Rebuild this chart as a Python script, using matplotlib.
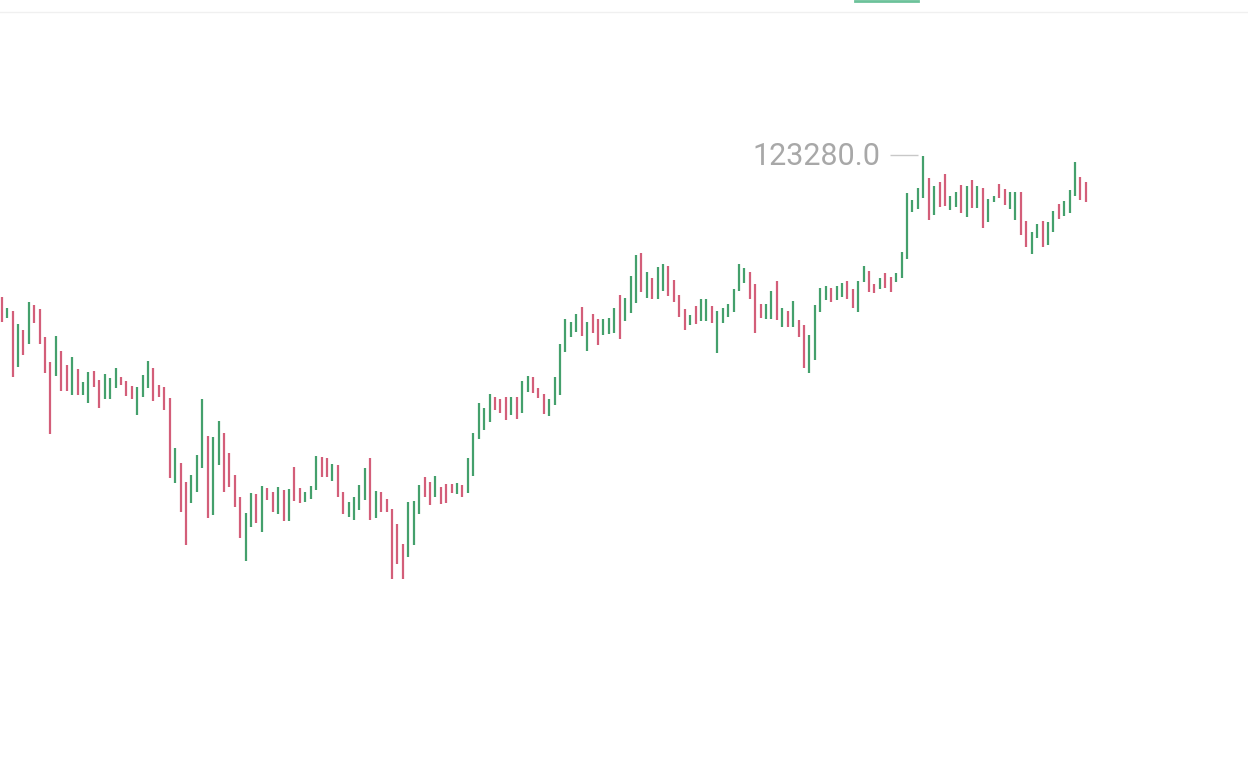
import matplotlib

matplotlib.use("Agg")
import matplotlib.pyplot as plt
from matplotlib.lines import Line2D

# bougies (plus haut / plus bas, sens)
highs = [
    121870, 121760, 121730, 121600, 121540, 121820, 121790, 121750, 121470, 121220,
    121480, 121330, 121190, 121270, 121150, 121020, 121120, 121130, 121040, 121100,
    121060, 121160, 121070, 121030, 120980, 120970, 121090, 121230, 121160, 120990,
    120970, 120860, 120360, 120210, 120020, 120090, 120290, 120850, 120480, 120470,
    120630, 120510, 120310, 120090, 119870, 119710, 119910, 119900, 119980, 119960,
    119920, 119970, 119940, 119950, 120170, 119960, 119920, 119980, 120280, 120270,
    120260, 120200, 120190, 119920, 119820, 119870, 119990, 120160, 120260, 119930,
    119920, 119850, 119750, 119600, 119400, 119820, 119830, 119990, 120070, 120020,
    120080, 119970, 120000, 120000, 120010, 119990, 120260, 120510, 120810, 120760,
    120900, 120870, 120850, 120870, 120870, 120870, 121030, 121080, 121070, 120960,
    120900, 120850, 121070, 121400, 121650, 121620, 121700, 121770, 121620, 121700,
    121650, 121650, 121660, 121760, 121890, 121860, 122080, 122290, 122310, 122120,
    122060, 122170, 122200, 122180, 122040, 121890, 121750, 121690, 121780, 121850,
    121850, 121780, 121730, 121760, 121800, 121950, 122200, 122160, 122120, 122000,
    121800, 121800, 121930, 122030, 121760, 121730, 121830, 121640, 121590, 121490,
    121790, 121960, 121980, 121960, 121980, 122010, 122030, 121950, 122030, 122180,
    122130, 122000, 122060, 122110, 122070, 122110, 122320, 122910, 122840, 122960,
    123280, 123060, 122980, 123020, 123100, 122880, 122920, 122990, 122980, 123040,
    122980, 122960, 122850, 122880, 123000, 122950, 122920, 122920, 122920, 122630,
    122520, 122600, 122630, 122620, 122730, 122800, 122830, 122940, 123220, 123070,
    123020,
]
lows = [
    121620, 121660, 121070, 121170, 121290, 121400, 121610, 121400, 121110, 120500,
    121080, 120930, 120930, 120890, 120890, 120890, 120810, 120970, 120760, 120850,
    120850, 120960, 120990, 120880, 120850, 120690, 120870, 120960, 120830, 120870,
    120740, 120060, 120010, 119720, 119390, 119810, 119920, 120160, 119660, 119690,
    120190, 119920, 119970, 119770, 119460, 119230, 119570, 119610, 119520, 119840,
    119720, 119700, 119630, 119630, 119830, 119810, 119820, 119850, 119940, 120070,
    120070, 120030, 119870, 119700, 119670, 119640, 119740, 119840, 119640, 119660,
    119720, 119720, 119050, 119200, 119050, 119270, 119390, 119700, 119870, 119790,
    119870, 119800, 119810, 119910, 119900, 119870, 119910, 120080, 120450, 120540,
    120620, 120740, 120710, 120640, 120690, 120650, 120710, 120920, 120910, 120860,
    120700, 120680, 120790, 120890, 121320, 121470, 121520, 121480, 121330, 121510,
    121390, 121490, 121500, 121510, 121450, 121630, 121710, 121810, 121920, 121860,
    121850, 121850, 121930, 121880, 121820, 121670, 121540, 121590, 121600, 121630,
    121630, 121610, 121310, 121610, 121670, 121720, 121930, 122010, 121850, 121510,
    121660, 121650, 121650, 121640, 121570, 121570, 121570, 121470, 121160, 121110,
    121240, 121720, 121840, 121820, 121840, 121870, 121850, 121760, 121720, 122020,
    121920, 121910, 121950, 121960, 121920, 122020, 122060, 122250, 122720, 122750,
    122860, 122640, 122690, 122770, 122780, 122740, 122770, 122710, 122670, 122760,
    122760, 122560, 122620, 122820, 122860, 122790, 122750, 122640, 122490, 122370,
    122300, 122460, 122370, 122390, 122520, 122650, 122680, 122710, 122880, 122840,
    122820,
]
# g = hausse, r = baisse
direction = list(
    "rgrgrgrrrr" "grrgrggrrg" "ggrrrgggrr" "rrgrrgggrg" "grrrrggrgr"
    "rgrgrrgggr" "rgrrggggrg" "rrrrrgggrr" "grrrgrgggg" "grrrgrggrr"
    "rggggggrgr" "rgggrgggrg" "rggrrrrgrg" "grggggggrr" "rggrgrgrrg"
    "gggrggrrgg" "rrgrrggggg" "grgrrggrgr" "grggrrggrr" "ggrggrgggr"
    "r"
)

GREEN = "#44a06c"
RED = "#d35e79"

fig = plt.figure(figsize=(12.48, 7.58), dpi=100)
ax = fig.add_axes([0, 0, 1, 1])
idx = list(range(len(highs)))
colors = [GREEN if d == "g" else RED for d in direction]
ax.vlines(idx, lows, highs, colors=colors, linewidth=1.6)

ax.set_xlim(-0.31, 229.9)
ax.set_ylim(117260, 124840)
ax.axis("off")

# étiquette du plus haut
top_i = max(idx, key=lambda i: highs[i])
top_v = highs[top_i]
ax.hlines(top_v + 10, top_i - 6.2, top_i - 1.0, color="#c8c8c8", linewidth=1)
ax.text(top_i - 7.9, top_v, f"{top_v:.1f}", ha="right", va="center",
        fontsize=22, family="Roboto", color="#a8a8a8")

# restes de l'interface en haut
fig.add_artist(Line2D([0, 1], [0.984, 0.984], color="#f0f0f0", linewidth=1))
fig.add_artist(Line2D([855 / 1248, 918 / 1248], [0.999, 0.999], color="#6cc29a", linewidth=2))

fig.savefig("out.png", dpi=100, facecolor="white")
